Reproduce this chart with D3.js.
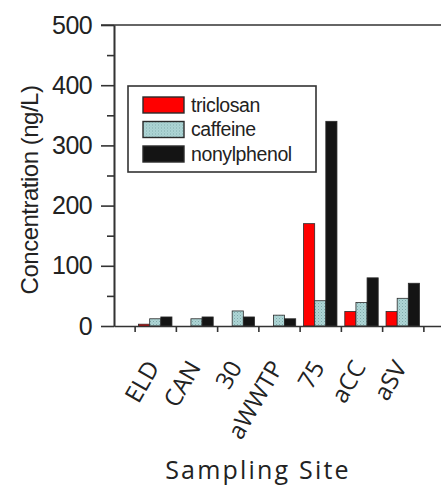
<!DOCTYPE html>
<html>
<head>
<meta charset="utf-8">
<script src="https://cdn.jsdelivr.net/npm/d3@7"></script>
<style>
  body { margin: 0; background: #fff; }
  svg { display: block; }
</style>
</head>
<body>
<div id="chart"></div>
<script>
// data
var sites = ["ELD", "CAN", "30", "aWWTP", "75", "aCC", "aSV"];
var triclosan = [3, 0, 0, 0, 170, 24, 24];
var caffeine = [12, 12, 25, 18, 42, 39, 46];
var nonylphenol = [15, 15, 15, 12, 340, 80, 71];
var seriesNames = ["triclosan", "caffeine", "nonylphenol"];
var yMajor = [0, 100, 200, 300, 400, 500];
var yMinor = [50, 150, 250, 350, 450];

var W = 441, H = 486;
var x0 = 114, x1 = 444, yTop = 25, yBot = 326;

var svg = d3.select("#chart").append("svg").attr("width", W).attr("height", H);

// stipple for caffeine bars
var defs = svg.append("defs");
var pat = defs.append("pattern").attr("id", "dots")
    .attr("width", 3).attr("height", 3).attr("patternUnits", "userSpaceOnUse");
pat.append("rect").attr("width", 3).attr("height", 3).attr("fill", "#aed6d6");
pat.append("rect").attr("x", 0).attr("y", 0).attr("width", 1).attr("height", 1).attr("fill", "#7fa9aa");
pat.append("rect").attr("x", 1.5).attr("y", 1.5).attr("width", 1).attr("height", 1).attr("fill", "#93bcbc");

var fills = ["#ff0000", "url(#dots)", "#141414"];
var series = [triclosan, caffeine, nonylphenol];

var x = d3.scaleLinear().domain([0, 8]).range([x0, x1]);
var y = d3.scaleLinear().domain([0, 500]).range([yBot, yTop]);
var barW = 0.27;

// bars
var g = svg.selectAll("g.series").data(series).enter().append("g").attr("class", "series");
g.each(function (vals, s) {
    d3.select(this).selectAll("rect").data(vals).enter().append("rect")
        .attr("x", function (d, i) { return x(i + 1 + (s - 1.5) * barW); })
        .attr("width", x(barW) - x(0))
        .attr("y", function (d) { return y(d); })
        .attr("height", function (d) { return y(0) - y(d); })
        .style("fill", fills[s])
        .style("stroke", "#2a2a2a")
        .style("stroke-width", 0.8);
});

// y axis, major + minor
var yAxis = svg.append("g").attr("transform", "translate(" + x0 + ",0)")
    .call(d3.axisLeft(y).tickValues(yMajor).tickSize(13).tickPadding(9).tickSizeOuter(0));
svg.append("g").attr("transform", "translate(" + x0 + ",0)")
    .call(d3.axisLeft(y).tickValues(yMinor).tickSize(7).tickFormat("").tickSizeOuter(0));
yAxis.selectAll("text")
    .style("font-family", "Liberation Sans, Arial, sans-serif")
    .style("font-size", "25px").style("letter-spacing", "-0.6px").style("fill", "#222");

// x axis ticks between sites
var xTicks = d3.range(sites.length + 1).map(function (i) { return i + 0.5; });
svg.append("g").attr("transform", "translate(0," + yBot + ")")
    .call(d3.axisBottom(x).tickValues(xTicks).tickSize(6).tickFormat("").tickSizeOuter(0));

// top frame line
svg.append("line").attr("x1", x0 - 13).attr("x2", x1).attr("y1", yTop).attr("y2", yTop);

svg.selectAll(".domain, .tick line, line")
    .style("stroke", "#333").style("stroke-width", 1.6);

// rotated site labels
svg.append("g").selectAll("text").data(sites).enter().append("text")
    .attr("transform", function (d, i) {
        return "translate(" + (x(i + 1) + 5) + "," + (yBot + 41) + ") rotate(-60)";
    })
    .attr("text-anchor", "end")
    .style("font-family", "Open Sans, sans-serif")
    .style("font-size", "24px")
    .style("fill", "#222")
    .text(function (d) { return d; });

// axis titles
svg.append("text")
    .attr("transform", "translate(38," + 190 + ") rotate(-90)")
    .attr("text-anchor", "middle")
    .style("font-family", "Liberation Sans, Arial, sans-serif")
    .style("font-size", "24px").style("letter-spacing", "-0.5px").style("fill", "#222")
    .text("Concentration (ng/L)");

svg.append("text")
    .attr("x", 258).attr("y", 479)
    .attr("text-anchor", "middle")
    .style("font-family", "Open Sans, sans-serif")
    .style("font-size", "25px").style("letter-spacing", "2.2px").style("fill", "#222")
    .text("Sampling Site");

// legend
var lg = svg.append("g");
lg.append("rect").attr("x", 128).attr("y", 86).attr("width", 188).attr("height", 86)
    .style("fill", "#fff").style("stroke", "#333").style("stroke-width", 1.6);
var item = lg.selectAll("g.item").data(seriesNames).enter().append("g").attr("class", "item")
    .attr("transform", function (d, i) { return "translate(143," + (97 + i * 24.5) + ")"; });
item.append("rect").attr("width", 41).attr("height", 16)
    .style("fill", function (d, i) { return fills[i]; })
    .style("stroke", "#2a2a2a").style("stroke-width", 1.4);
item.append("text").attr("x", 48).attr("y", 14.5)
    .style("font-family", "Liberation Sans, Arial, sans-serif")
    .style("font-size", "19.5px").style("letter-spacing", "-0.4px").style("fill", "#222")
    .text(function (d) { return d; });
</script>
</body>
</html>
